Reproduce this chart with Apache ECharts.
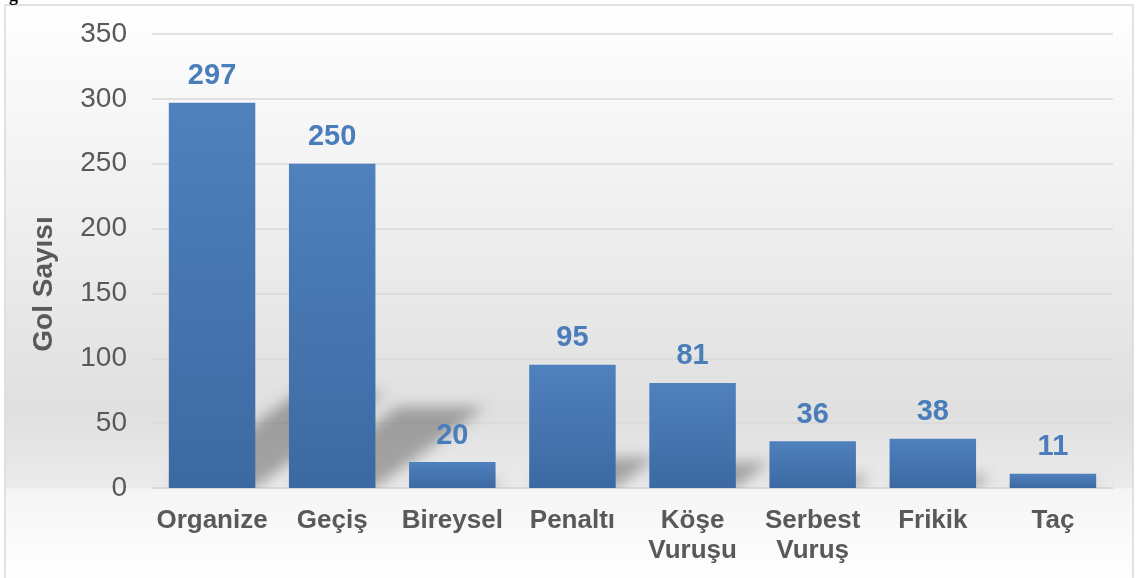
<!DOCTYPE html>
<html>
<head>
<meta charset="utf-8">
<script src="https://cdn.jsdelivr.net/npm/echarts@6/dist/echarts.min.js"></script>
<style>
html,body{margin:0;padding:0;background:#fff;}
#main{width:1137px;height:578px;}
</style>
</head>
<body>
<div id="main"></div>
<script>
var categories = ['Organize','Geçiş','Bireysel','Penaltı','Köşe\nVuruşu','Serbest\nVuruş','Frikik','Taç'];
var golSayisi = [297,250,20,95,81,36,38,11];
var yTicks = [0,50,100,150,200,250,300,350];

var chart = echarts.init(document.getElementById('main'));

// zemin golgesi (egik paralelkenar)
function shadowItem(params, api){
	var i = params.dataIndex;
	var base = api.coord([i,0]);
	var top = api.coord([i,api.value(1)]);
	var w = api.size([1,0])[0]*0.72;
	var h = (base[1]-top[1])*0.25;
	var dx = h*1.35;
	var off = 3000;
	var xl = base[0]-w/2, xr = base[0]+w/2, y0 = base[1];
	return {
		type:'polygon',
		shape:{points:[[xl-off,y0],[xr-off,y0],[xr+dx-off,y0-h],[xl+dx-off,y0-h]]},
		style:{fill:'#000',shadowBlur:14,shadowColor:'rgba(0,0,0,0.3)',shadowOffsetX:off}
	};
}

option = {
	animation:false,
	backgroundColor:'#fff',
	graphic:[{
		type:'rect',z:-100,
		shape:{x:5,y:5,width:1128,height:580},
		style:{
			stroke:'#d9d9d9',lineWidth:1.5,
			fill:new echarts.graphic.LinearGradient(0,0,0,1,[
				{offset:0,color:'#ffffff'},
				{offset:0.7,color:'#e0e0e0'},
				{offset:0.832,color:'#ebebeb'},
				{offset:0.833,color:'#f5f5f5'},
				{offset:1,color:'#ffffff'}
			])
		}
	},{
		type:'text',left:9,top:-13,z:10,
		style:{text:'g',font:'bold 18px "Liberation Serif"',fill:'#000'}
	},{
		type:'text',z:10,x:44,y:284,rotation:Math.PI/2,
		style:{text:'Gol Sayısı',font:'bold 28px "Liberation Sans"',fill:'#595959',align:'center',verticalAlign:'middle'}
	}],
	grid:{left:152,right:24,top:34,bottom:90},
	xAxis:{
		type:'category',
		data:categories,
		axisLine:{show:true,lineStyle:{color:'#d9d9d9',width:1.5}},
		axisTick:{show:false},
		axisLabel:{
			color:'#595959',fontFamily:'Liberation Sans',fontWeight:'bold',
			fontSize:26,lineHeight:30,margin:18,interval:0
		}
	},
	yAxis:{
		type:'value',min:0,max:350,interval:50,
		axisLine:{show:false},
		axisTick:{show:false},
		splitLine:{lineStyle:{color:'#d9d9d9',width:1.5}},
		axisLabel:{
			color:'#595959',fontFamily:'Liberation Sans',fontSize:28,margin:25,
			formatter:function(v){ return yTicks.indexOf(v)>=0 ? String(v) : ''; }
		}
	},
	series:[{
		type:'custom',
		z:1,
		clip:true,
		renderItem:shadowItem,
		data:golSayisi.map(function(v,i){ return [i,v]; }),
		silent:true
	},{
		type:'bar',
		z:3,
		data:golSayisi,
		barWidth:'72%',
		itemStyle:{
			color:new echarts.graphic.LinearGradient(0,0,0,1,[
				{offset:0,color:'#4f81bd'},
				{offset:1,color:'#3c69a2'}
			])
		},
		label:{
			show:true,position:'top',distance:12,
			color:'#4a7ebb',fontFamily:'Liberation Sans',fontWeight:'bold',fontSize:29
		}
	}]
};
chart.setOption(option);
</script>
</body>
</html>
